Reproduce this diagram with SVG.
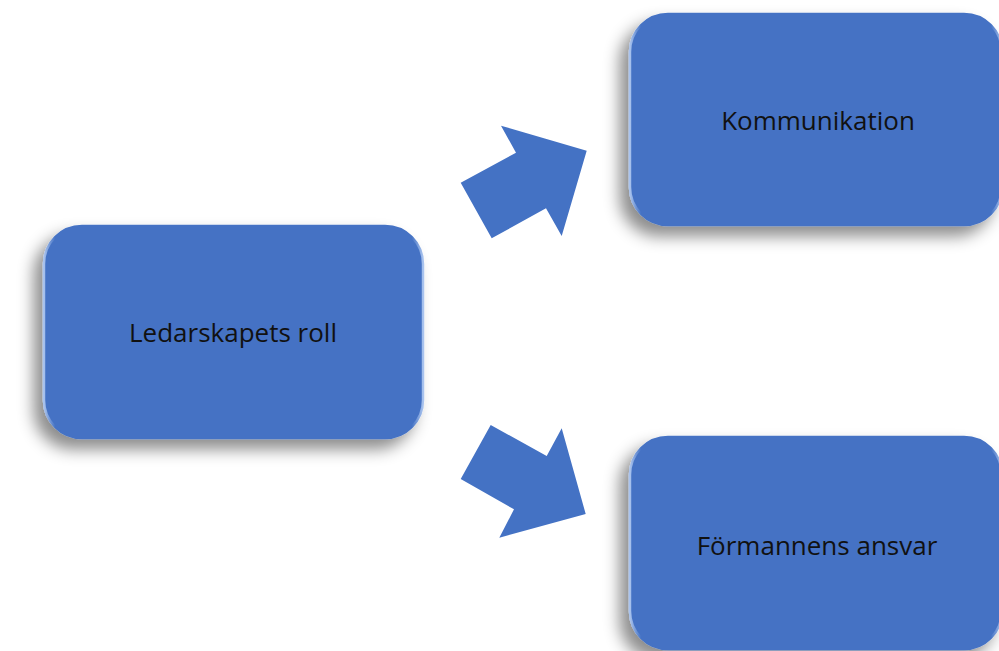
<svg xmlns="http://www.w3.org/2000/svg" width="999" height="651" viewBox="0 0 999 651">
<defs>
<filter id="sh" x="-20%" y="-20%" width="140%" height="150%">
<feDropShadow dx="-9" dy="10" stdDeviation="8" flood-color="#000" flood-opacity="0.45"/>
</filter>
<linearGradient id="edge" x1="0" y1="0" x2="1" y2="0">
<stop offset="0" stop-color="#a9c3ee"/>
<stop offset="0.03" stop-color="#4472c4"/>
<stop offset="0.97" stop-color="#4472c4"/>
<stop offset="1" stop-color="#a9c3ee"/>
</linearGradient>
</defs>
<style>
.box{fill:#4472c4;stroke:url(#edge);stroke-width:2.5;filter:url(#sh)}
.lbl{font-family:"Open Sans","Noto Sans",sans-serif;font-size:26px;fill:#111;text-anchor:middle}
.arr{fill:#4472c4}
</style>
<rect width="999" height="651" fill="#fff"/>
<g id="connectors">
<polygon class="arr" points="491.7,238.3 460.7,182.7 516,152.7 501,125.7 586.7,150.7 561.7,236 546,208.3"/>
<polygon class="arr" points="490.7,425 460.7,479 514,509.3 499.3,537.7 585.7,514 561.7,428.3 546.7,456"/>
</g>
<g id="node-ledarskap">
<rect class="box" x="44" y="226" width="379" height="212" rx="38"/>
<text class="lbl" x="233" y="342">Ledarskapets roll</text>
</g>
<g id="node-kommunikation">
<rect class="box" x="630" y="14" width="372" height="211" rx="38"/>
<text class="lbl" x="818" y="130">Kommunikation</text>
</g>
<g id="node-formannens">
<rect class="box" x="630" y="437" width="372" height="212" rx="38"/>
<text class="lbl" x="817" y="555">Förmannens ansvar</text>
</g>
</svg>
